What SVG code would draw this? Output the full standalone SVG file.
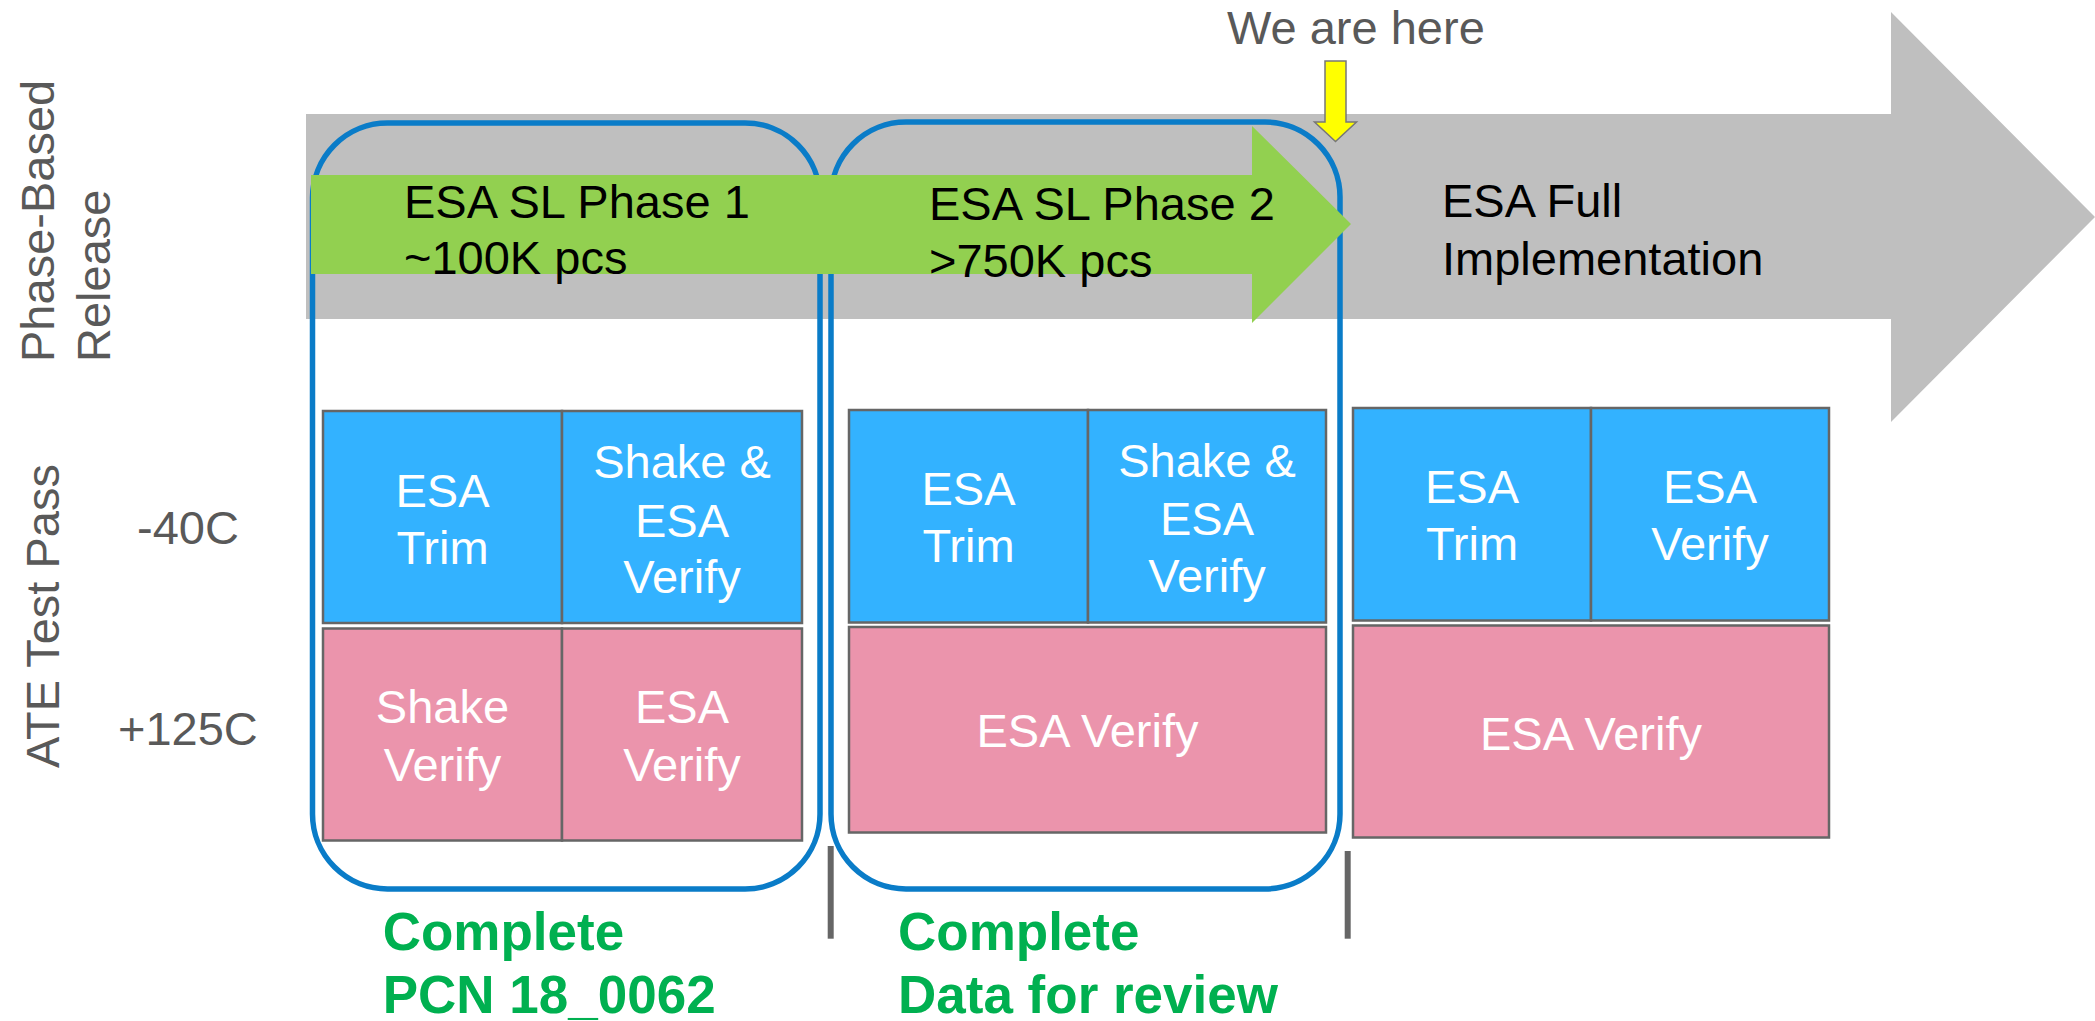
<svg xmlns="http://www.w3.org/2000/svg" width="2095" height="1021" viewBox="0 0 2095 1021">
<style>
text{font-family:"Liberation Sans",Arial,sans-serif;font-size:47px}
.lbl{fill:#595959}
.blk{fill:#000}
.wt{fill:#fff;text-anchor:middle}
.grn{fill:#00B050;font-weight:bold;font-size:53px}
.blue{fill:#33B2FF;stroke:#666;stroke-width:2.5}
.pink{fill:#EB94AC;stroke:#666;stroke-width:2.5}
.phase{fill:none;stroke:#0A7CC8;stroke-width:5.5}
.sep{stroke:#666;stroke-width:6}
</style>
<rect width="2095" height="1021" fill="#fff"/>
<g id="timeline-arrow">
<polygon points="306,114 1891,114 1891,12 2095,217 1891,422 1891,319 306,319" fill="#BFBFBF"/>
<text class="blk" x="1442" y="217">ESA Full</text>
<text class="blk" x="1442" y="275">Implementation</text>
</g>
<g id="phase-box-1">
<path class="phase" d="M387.5,123 H745 A75,75 0 0 1 820,198 V814 A75,75 0 0 1 745,889 H387.5 A75,75 0 0 1 312.5,814 V198 A75,75 0 0 1 387.5,123 Z"/>
</g>
<g id="phase-box-2">
<path class="phase" d="M906,122 H1265 A75,75 0 0 1 1340,197 V814 A75,75 0 0 1 1265,889 H906 A75,75 0 0 1 831,814 V197 A75,75 0 0 1 906,122 Z"/>
</g>
<g id="sl-arrow">
<polygon points="311,175 1252,175 1252,126 1351,224 1252,323 1252,274 311,274" fill="#92D050"/>
<text class="blk" x="404" y="218">ESA SL Phase 1</text>
<text class="blk" x="404" y="274">~100K pcs</text>
<text class="blk" x="929" y="220">ESA SL Phase 2</text>
<text class="blk" x="929" y="277">&gt;750K pcs</text>
</g>
<g id="we-are-here">
<text class="lbl" x="1227" y="44">We are here</text>
<polygon points="1325,61 1346,61 1346,122 1356.5,122 1335.5,141.5 1314.5,122 1325,122" fill="#FFFF00" stroke="#777" stroke-width="1.5"/>
</g>
<g id="row-labels">
<text class="lbl" transform="translate(54,362) rotate(-90)">Phase-Based</text>
<text class="lbl" transform="translate(109.5,362) rotate(-90)">Release</text>
<text class="lbl" transform="translate(59,616) rotate(-90)" text-anchor="middle">ATE Test Pass</text>
<text class="lbl" x="137" y="543.5">-40C</text>
<text class="lbl" x="118" y="744.5">+125C</text>
</g>
<g id="group-1">
<rect class="blue" x="323" y="411" width="239" height="212"/>
<rect class="blue" x="562" y="411" width="240" height="212"/>
<rect class="pink" x="323" y="628.5" width="239" height="212"/>
<rect class="pink" x="562" y="628.5" width="240" height="212"/>
<text class="wt" x="442.5" y="506.7">ESA</text>
<text class="wt" x="442.5" y="564">Trim</text>
<text class="wt" x="682" y="478">Shake &amp;</text>
<text class="wt" x="682" y="536.6">ESA</text>
<text class="wt" x="682" y="592.6">Verify</text>
<text class="wt" x="442.5" y="722.6">Shake</text>
<text class="wt" x="442.5" y="780.6">Verify</text>
<text class="wt" x="682" y="722.6">ESA</text>
<text class="wt" x="682" y="780.6">Verify</text>
</g>
<g id="group-2">
<rect class="blue" x="849" y="410" width="239" height="212.5"/>
<rect class="blue" x="1088" y="410" width="238" height="212.5"/>
<rect class="pink" x="849" y="627" width="477" height="205.5"/>
<text class="wt" x="968.5" y="504.7">ESA</text>
<text class="wt" x="968.5" y="562">Trim</text>
<text class="wt" x="1207" y="477">Shake &amp;</text>
<text class="wt" x="1207" y="534.5">ESA</text>
<text class="wt" x="1207" y="591.8">Verify</text>
<text class="wt" x="1087.5" y="747">ESA Verify</text>
</g>
<g id="group-3">
<rect class="blue" x="1353" y="408" width="238" height="212.5"/>
<rect class="blue" x="1591" y="408" width="238" height="212.5"/>
<rect class="pink" x="1353" y="625.5" width="476" height="212"/>
<text class="wt" x="1472" y="502.6">ESA</text>
<text class="wt" x="1472" y="560">Trim</text>
<text class="wt" x="1710" y="502.6">ESA</text>
<text class="wt" x="1710" y="560">Verify</text>
<text class="wt" x="1591" y="750">ESA Verify</text>
</g>
<g id="connectors">
<line class="sep" x1="830.7" y1="846" x2="830.7" y2="938.7"/>
<line class="sep" x1="1347.7" y1="851" x2="1347.7" y2="938.7"/>
</g>
<g id="status-1">
<text class="grn" x="382.7" y="950">Complete</text>
<text class="grn" x="382.7" y="1013">PCN 18_0062</text>
</g>
<g id="status-2">
<text class="grn" x="898" y="950">Complete</text>
<text class="grn" x="898" y="1013">Data for review</text>
</g>
</svg>
